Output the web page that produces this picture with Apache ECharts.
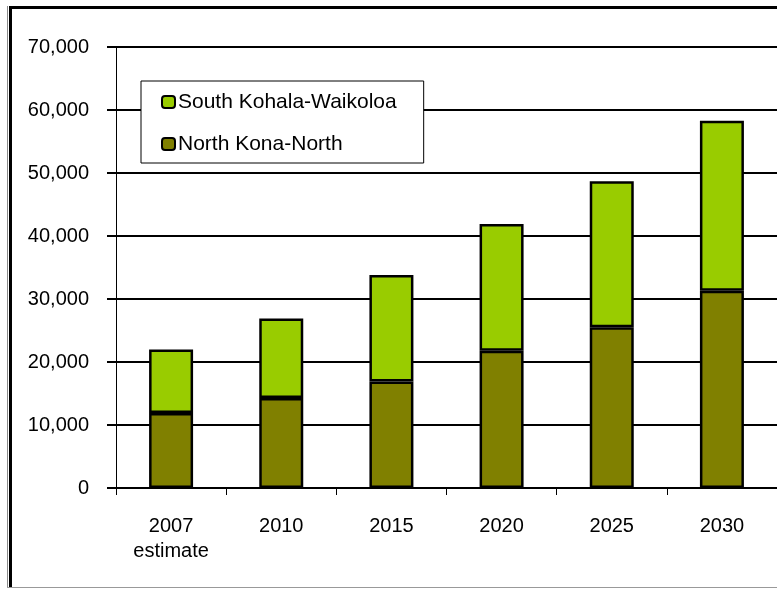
<!DOCTYPE html>
<html>
<head>
<meta charset="utf-8">
<script src="https://cdn.jsdelivr.net/npm/echarts@6/dist/echarts.min.js"></script>
<style>
  html, body { margin: 0; padding: 0; background: #fff; }
  #chart { width: 777px; height: 589px; }
</style>
</head>
<body>
<div id="chart"></div>
<script>
// Population by year, two districts (stacked)
const categories = ['2007\nestimate', '2010', '2015', '2020', '2025', '2030'];
const northKona = [11900, 14300, 16900, 21800, 25500, 31300];
const southKohala = [10100, 12600, 16900, 20100, 23200, 27000];
const yTicks = { min: 0, max: 70000, interval: 10000 };

const FONT = '"Liberation Sans", Arial, sans-serif';

const chart = echarts.init(document.getElementById('chart'), null, { renderer: 'canvas' });

chart.setOption({
  animation: false,
  backgroundColor: '#ffffff',
  textStyle: { fontFamily: FONT, color: '#000' },
  grid: { left: 116, top: 47, width: 665, height: 441, containLabel: false },
  legend: {
    data: ['South Kohala-Waikoloa', 'North Kona-North'],
    orient: 'vertical',
    left: 141,
    top: 81,
    padding: [9, 27, 7, 20],
    itemGap: 18,
    itemWidth: 13,
    itemHeight: 12,
    borderColor: '#000',
    borderWidth: 1,
    backgroundColor: '#fff',
    selectedMode: false,
    textStyle: { fontFamily: FONT, fontSize: 21, color: '#000', lineHeight: 24, padding: [0, 0, 0, -2] }
  },
  xAxis: {
    type: 'category',
    data: categories,
    boundaryGap: true,
    axisLine: { show: true, lineStyle: { color: '#000', width: 1 } },
    axisTick: { show: true, length: 7, inside: false, lineStyle: { color: '#000', width: 1 } },
    axisLabel: { fontFamily: FONT, fontSize: 20, color: '#000', margin: 26, lineHeight: 25, interval: 0 },
    splitLine: { show: false }
  },
  yAxis: {
    type: 'value',
    min: yTicks.min,
    max: yTicks.max,
    interval: yTicks.interval,
    axisLine: { show: true, lineStyle: { color: '#000', width: 1 } },
    axisTick: { show: true, length: 9, lineStyle: { color: '#000', width: 2 } },
    axisLabel: {
      fontFamily: FONT, fontSize: 20, color: '#000', margin: 27,
      formatter: v => v.toLocaleString('en-US')
    },
    splitLine: { show: true, lineStyle: { color: '#000', width: 2 } }
  },
  series: [
    {
      name: 'North Kona-North',
      type: 'bar',
      stack: 'total',
      data: northKona,
      barWidth: 44,
      itemStyle: { color: '#808000', borderColor: '#000', borderWidth: 2.5 }
    },
    {
      name: 'South Kohala-Waikoloa',
      type: 'bar',
      stack: 'total',
      data: southKohala,
      barWidth: 44,
      itemStyle: { color: '#99CC00', borderColor: '#000', borderWidth: 2.5 }
    }
  ],
  graphic: [
    // chart frame
    { type: 'line', shape: { x1: 9, y1: 7.5, x2: 777, y2: 7.5 }, style: { stroke: '#000', lineWidth: 3 }, silent: true },
    { type: 'line', shape: { x1: 10.5, y1: 6, x2: 10.5, y2: 588 }, style: { stroke: '#000', lineWidth: 3 }, silent: true },
    { type: 'line', shape: { x1: 7.5, y1: 6, x2: 7.5, y2: 588 }, style: { stroke: '#8a8a8a', lineWidth: 1 }, silent: true },
    { type: 'line', shape: { x1: 7, y1: 587.5, x2: 777, y2: 587.5 }, style: { stroke: '#999', lineWidth: 1 }, silent: true }
  ]
});
</script>
</body>
</html>
